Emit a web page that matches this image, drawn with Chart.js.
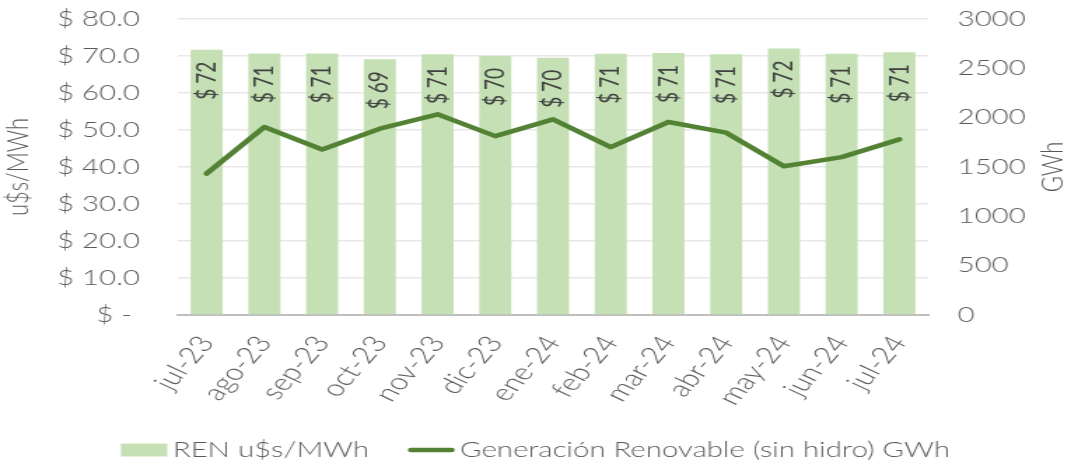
<!DOCTYPE html>
<html>
<head>
<meta charset="utf-8">
<script src="https://cdn.jsdelivr.net/npm/chart.js@4.4.1/dist/chart.umd.min.js"></script>
<style>
    html, body { margin: 0; padding: 0; background: #fff; }
</style>
</head>
<body>
<!-- drawn narrow and stretched sideways, like the wide lettering of the original -->
<canvas id="chart" width="765" height="462" style="display:block;width:1071px;height:462px"></canvas>
<script>
const months = ['jul-23', 'ago-23', 'sep-23', 'oct-23', 'nov-23', 'dic-23', 'ene-24',
    'feb-24', 'mar-24', 'abr-24', 'may-24', 'jun-24', 'jul-24'];
const renPrice = [71.7, 70.7, 70.7, 69.1, 70.5, 70.0, 69.5, 70.6, 70.8, 70.5, 72.0, 70.6, 71.0];
const renGeneration = [1434, 1905, 1678, 1888, 2034, 1813, 1983, 1701, 1956, 1848, 1508, 1600, 1780];
const priceTicks = [0, 10, 20, 30, 40, 50, 60, 70, 80];
const gwhTicks = [0, 500, 1000, 1500, 2000, 2500, 3000];

const barLabel = 'REN u$s/MWh';
const lineLabel = 'Generación Renovable (sin hidro) GWh';

const FONT = 'Lato, "Open Sans", sans-serif';
const TEXT = '#595959';
const BAR_COLOR = '#C5E0B4';
const LINE_COLOR = '#548235';

Chart.defaults.font.family = FONT;
Chart.defaults.font.size = 21;
Chart.defaults.font.weight = 300;
Chart.defaults.color = TEXT;

function formatPrice(value) {
    if (value === 0) return '$ - ';
    return '$ ' + value.toFixed(1);
}

const extras = {
    id: 'extras',
    afterDatasetsDraw(chart) {
        const ctx = chart.ctx;
        const bars = chart.getDatasetMeta(0).data;

        ctx.save();
        ctx.fillStyle = '#404040';
        ctx.font = `19px ${FONT}`;
        ctx.textAlign = 'right';
        ctx.textBaseline = 'middle';
        bars.forEach((bar, i) => {
            ctx.save();
            ctx.translate(bar.x, bar.y + 12);
            ctx.rotate(-Math.PI / 2);
            ctx.fillText(`$ ${Math.round(renPrice[i])}`, 0, 0);
            ctx.restore();
        });
        ctx.restore();
    },
    afterDraw(chart) {
        const ctx = chart.ctx;
        const area = chart.chartArea;
        const midY = (area.top + area.bottom) / 2;

        ctx.save();
        ctx.fillStyle = TEXT;
        ctx.textAlign = 'center';
        ctx.textBaseline = 'middle';

        // axis titles, both reading upwards
        ctx.font = `300 22px ${FONT}`;
        ctx.save();
        ctx.translate(13, midY);
        ctx.rotate(-Math.PI / 2);
        ctx.fillText('u$s/MWh', 0, 0);
        ctx.restore();

        ctx.save();
        ctx.translate(752, midY);
        ctx.rotate(-Math.PI / 2);
        ctx.fillText('GWh', 0, 0);
        ctx.restore();

        // legend
        ctx.font = `300 21px ${FONT}`;
        ctx.textAlign = 'left';
        const legendY = 450;
        const keyW = 33;
        const keyGap = 4;
        const itemGap = 28;
        const w1 = ctx.measureText(barLabel).width;
        const w2 = ctx.measureText(lineLabel).width;
        const total = keyW + keyGap + w1 + itemGap + keyW + keyGap + w2;
        let x = (chart.width - total) / 2;

        ctx.fillStyle = BAR_COLOR;
        ctx.fillRect(x, legendY - 6.5, keyW, 13);
        x += keyW + keyGap;
        ctx.fillStyle = TEXT;
        ctx.fillText(barLabel, x, legendY);
        x += w1 + itemGap;

        ctx.strokeStyle = LINE_COLOR;
        ctx.lineWidth = 4.5;
        ctx.lineCap = 'round';
        ctx.beginPath();
        ctx.moveTo(x + 2, legendY);
        ctx.lineTo(x + keyW - 2, legendY);
        ctx.stroke();
        x += keyW + keyGap;
        ctx.fillText(lineLabel, x, legendY);

        ctx.restore();
    }
};

// y axes: keep the fixed width and stop the tick padding from pushing the top down
function fixYAxis(width) {
    return function (scale) {
        scale.width = width;
        scale.paddingTop = 12;
        scale.paddingBottom = 12;
    };
}

new Chart(document.getElementById('chart'), {
    data: {
        labels: months,
        datasets: [
            {
                type: 'bar',
                label: barLabel,
                data: renPrice,
                backgroundColor: BAR_COLOR,
                barPercentage: 0.555,
                categoryPercentage: 1,
                yAxisID: 'y',
                order: 2
            },
            {
                type: 'line',
                label: lineLabel,
                data: renGeneration,
                borderColor: LINE_COLOR,
                borderWidth: 4.5,
                borderJoinStyle: 'round',
                borderCapStyle: 'round',
                pointRadius: 0,
                tension: 0,
                yAxisID: 'y1',
                order: 1
            }
        ]
    },
    options: {
        responsive: false,
        devicePixelRatio: 1,
        animation: false,
        layout: {
            padding: { top: 19, left: 0, right: 0, bottom: 0 }
        },
        plugins: {
            legend: { display: false },
            tooltip: { enabled: false }
        },
        scales: {
            x: {
                grid: { display: false, drawTicks: false },
                border: { color: '#bfbfbf', width: 2 },
                ticks: {
                    autoSkip: false,
                    minRotation: 57,
                    maxRotation: 57,
                    padding: 16,
                    font: { size: 23 }
                },
                afterFit(scale) { scale.height = 147; }
            },
            y: {
                position: 'left',
                min: 0,
                max: 80,
                afterBuildTicks(scale) { scale.ticks = priceTicks.map(v => ({ value: v })); },
                ticks: { callback: formatPrice, padding: 27 },
                grid: { color: '#e8e8e8', lineWidth: 1.5, drawTicks: false },
                border: { display: false },
                afterFit: fixYAxis(127)
            },
            y1: {
                position: 'right',
                min: 0,
                max: 3000,
                afterBuildTicks(scale) { scale.ticks = gwhTicks.map(v => ({ value: v })); },
                ticks: { padding: 21, callback: v => String(v) },
                grid: { display: false, drawTicks: false },
                border: { display: false },
                afterFit: fixYAxis(102)
            }
        }
    },
    plugins: [extras]
});
</script>
</body>
</html>
